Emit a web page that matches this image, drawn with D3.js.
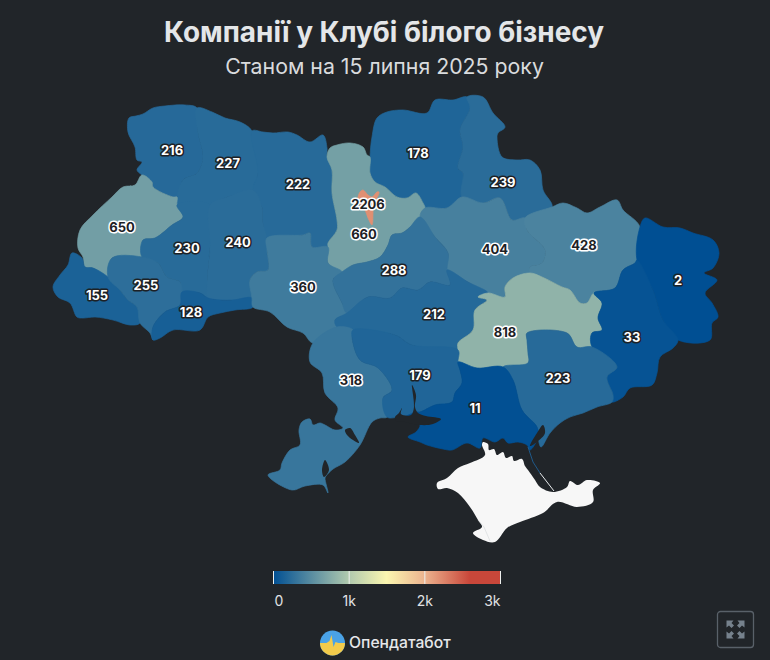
<!DOCTYPE html>
<html>
<head>
<meta charset="utf-8">
<script src="https://cdn.jsdelivr.net/npm/d3@7"></script>
<style>
	html, body { margin: 0; padding: 0; background: #212529; }
	svg { display: block; font-family: Inter, "Noto Sans", sans-serif; }
</style>
</head>
<body>
<svg id="chart" width="770" height="660"></svg>
<script>
// Companies per oblast. Outlines are traced map units.
const regionNames = ['Волинська', 'Рівненська', 'Житомирська', 'Чернігівська', 'Сумська', 'Львівська', 'Тернопільська', 'Хмельницька', 'Київська', 'Полтавська', 'Харківська', 'Закарпатська', 'Івано-Франківська', 'Чернівецька', 'Вінницька', 'Черкаська', 'Кіровоградська', 'Дніпропетровська', 'Луганська', 'Донецька', 'Одеська', 'Миколаївська', 'Запорізька', 'Херсонська', 'м. Київ'];
const regionValues = [216, 227, 222, 178, 239, 650, 230, 240, 660, 404, 428, 155, 255, 128, 360, 288, 212, 818, 2, 33, 318, 179, 223, 11, 2206];

const regionOutlines = [
	[[129,118],[136,116],[143,114],[153,108],[165,106],[185,105],[197,108],[198,133],[203,157],[197,173],[183,180],[177,197],[173,197],[153,187],[152,182],[142,175],[137,170],[142,162],[137,160],[135,147],[128,132]],
	[[197,108],[212,112],[225,118],[240,122],[252,131],[258,173],[253,190],[227,197],[210,205],[177,205],[177,197],[183,180],[197,173],[203,157],[198,133]],
	[[252,131],[263,132],[273,133],[288,132],[297,135],[310,142],[323,135],[327,148],[327,157],[332,170],[332,193],[337,220],[337,230],[328,243],[328,247],[312,247],[310,233],[303,235],[267,238],[263,223],[262,207],[253,190],[258,173]],
	[[372,137],[377,118],[387,112],[403,110],[427,113],[435,100],[453,100],[467,97],[470,108],[460,130],[463,147],[458,168],[463,173],[462,197],[447,208],[425,208],[423,203],[416,193],[407,198],[397,197],[385,187],[375,182],[370,173],[370,157]],
	[[467,97],[483,97],[493,113],[505,127],[498,133],[497,138],[502,157],[517,160],[530,160],[540,170],[543,190],[552,207],[525,218],[512,220],[500,198],[483,203],[462,197],[463,173],[458,168],[463,147],[460,130],[470,108]],
	[[142,175],[152,182],[153,187],[173,197],[177,197],[177,205],[183,217],[172,225],[155,238],[143,240],[142,257],[112,258],[108,277],[93,268],[85,267],[83,257],[78,248],[80,230],[93,215],[112,197],[123,187],[135,185]],
	[[183,217],[177,205],[210,205],[210,247],[207,283],[208,298],[200,293],[182,292],[180,282],[167,277],[158,263],[142,257],[143,240],[155,238],[172,225]],
	[[210,205],[227,197],[253,190],[262,207],[263,223],[267,238],[267,250],[268,270],[257,272],[250,280],[252,298],[233,300],[220,300],[208,298],[207,283],[210,247]],
	[[327,157],[330,148],[337,145],[350,143],[363,147],[367,155],[370,157],[370,173],[375,182],[385,187],[397,197],[407,198],[416,193],[423,203],[425,208],[420,217],[410,227],[402,233],[392,235],[388,245],[380,257],[367,262],[353,265],[342,272],[328,263],[328,247],[328,243],[337,230],[337,220],[332,193],[332,170]],
	[[425,208],[447,208],[462,197],[483,203],[500,198],[512,220],[525,218],[527,230],[545,250],[542,263],[530,267],[530,273],[513,278],[505,287],[505,297],[488,293],[468,282],[447,270],[448,253],[435,237],[420,217]],
	[[525,218],[552,207],[563,203],[577,208],[587,213],[600,207],[617,200],[623,210],[640,227],[637,260],[635,263],[623,270],[615,288],[594,293],[587,303],[580,303],[570,290],[562,287],[542,277],[530,273],[530,267],[542,263],[545,250],[527,230]],
	[[108,277],[120,290],[128,300],[137,307],[140,323],[130,325],[113,320],[95,317],[83,318],[77,317],[70,303],[58,297],[53,287],[60,275],[68,265],[72,253],[82,258],[85,267],[93,268]],
	[[142,257],[158,263],[167,277],[180,282],[182,292],[180,305],[165,312],[153,327],[153,340],[150,333],[140,323],[137,307],[128,300],[120,290],[108,277],[112,258]],
	[[182,292],[200,293],[208,298],[220,300],[233,300],[252,298],[253,307],[235,310],[220,313],[208,317],[200,330],[173,330],[160,338],[153,340],[153,327],[165,312],[180,305]],
	[[267,238],[303,235],[310,233],[312,247],[328,247],[328,263],[342,272],[333,280],[342,303],[347,313],[335,320],[337,327],[313,343],[303,333],[287,327],[270,312],[253,307],[252,298],[250,280],[257,272],[268,270],[267,250]],
	[[342,272],[353,265],[367,262],[380,257],[388,245],[392,235],[402,233],[410,227],[420,217],[435,237],[448,253],[447,270],[450,285],[430,282],[418,290],[402,288],[390,298],[368,297],[347,313],[342,303],[333,280]],
	[[335,320],[347,313],[368,297],[390,298],[402,288],[418,290],[430,282],[450,285],[447,270],[468,282],[488,293],[478,297],[487,300],[475,310],[473,330],[458,343],[458,350],[412,345],[395,335],[353,330],[337,327]],
	[[505,287],[513,278],[530,273],[542,277],[562,287],[570,290],[580,303],[587,303],[594,293],[602,303],[598,318],[602,330],[592,333],[592,347],[577,347],[567,333],[527,333],[527,340],[528,353],[528,363],[503,367],[477,368],[458,362],[458,350],[458,343],[473,330],[475,310],[487,300],[478,297],[488,293],[505,297]],
	[[640,227],[645,218],[663,227],[680,228],[693,233],[713,240],[719,253],[713,268],[704,273],[717,280],[705,293],[712,303],[718,317],[712,323],[710,340],[678,340],[663,320],[653,290],[637,260]],
	[[637,260],[653,290],[663,320],[678,340],[673,348],[660,357],[657,373],[652,385],[630,388],[623,397],[612,402],[613,395],[607,377],[617,367],[592,347],[592,333],[602,330],[598,318],[602,303],[594,293],[615,288],[623,270],[635,263]],
	[[313,343],[337,327],[353,330],[352,337],[360,360],[378,368],[392,390],[383,398],[387,417],[380,418],[372,422],[360,445],[345,462],[333,469],[326,476],[325,478],[328,493],[323,485],[305,486],[292,490],[268,475],[280,470],[282,463],[290,450],[300,445],[299,430],[302,422],[310,419],[313,425],[320,423],[325,425],[335,430],[343,428],[335,420],[338,408],[325,393],[322,373],[310,362]],
	[[353,330],[395,335],[412,345],[458,350],[458,362],[460,370],[462,383],[455,393],[452,402],[435,405],[420,412],[416,412],[413,417],[400,417],[387,417],[383,398],[392,390],[378,368],[360,360],[352,337]],
	[[503,367],[528,363],[528,353],[527,340],[527,333],[567,333],[577,347],[592,347],[617,367],[607,377],[613,395],[612,402],[597,407],[583,413],[570,417],[560,423],[550,433],[541,447],[538,437],[537,427],[522,410],[513,380]],
	[[416,412],[420,412],[435,405],[452,402],[455,393],[462,383],[460,370],[458,362],[477,368],[503,367],[513,380],[522,410],[537,427],[538,437],[530,450],[527,445],[518,442],[508,443],[503,438],[495,442],[483,438],[480,448],[467,443],[452,450],[443,449],[427,445],[420,442],[408,437],[416,432],[420,425],[408,420],[400,420]],
	[[360,192],[363,190],[368,195],[372,197],[377,192],[379,192],[377,198],[373,205],[373,213],[372,225],[368,218],[365,210],[360,205],[358,198]]
];

// Where each number sits on the map, same order as regionNames
const labelAnchors = [[172,150],[228,163],[298,184],[418,153],[503,182],[122,227],[187,248],[238,242],[364,234],[495,249],[584,245],[97,295],[146,285],[191,312],[303,287],[394,270],[434,314],[505,332],[678,280],[632,337],[351,380],[420,375],[558,378],[475,408],[368,204]];

// Limans and the Crimea, not part of the colour scale
const waterOutlines = [
	[[345,430],[350,428],[355,435],[359,443],[353,440],[347,435]],
	[[325,460],[329,470],[324,477],[322,470]],
	[[395,417],[399,413],[402,408],[401,414],[411,415],[414,407],[412,385],[416,395],[415,407],[418,413],[426,416],[441,419],[433,424],[420,425],[405,422],[396,421]],
	[[543,425],[545,433],[537,442],[530,446],[537,433]]
];
const crimeaOutline = [[483,442],[488,444],[489,450],[494,449],[497,455],[503,452],[506,458],[512,456],[514,461],[522,459],[525,466],[528,470],[535,480],[540,487],[553,492],[567,487],[570,481],[578,485],[587,480],[600,483],[593,490],[593,502],[577,507],[557,502],[543,513],[520,522],[507,528],[495,542],[483,540],[473,533],[482,527],[478,520],[470,507],[458,493],[447,488],[438,489],[437,483],[447,478],[458,468],[470,463],[485,455],[482,445]];
const bridgeBlueLine = [[528,447],[533,462],[540,473]];
const bridgeWhiteLine = [[540,473],[554,491]];
const sevastopolLine = [[478,520],[484,527],[490,541]];

// Legend
const colorDomain = [0, 1000, 1500, 2000, 2600, 3000];
const colorRange = ['#004f93', '#b0c9ae', '#fbf6b0', '#ecb48f', '#c9473a', '#c9473a'];
const legendTicks = [0, 1000, 2000, 3000];
const legendLabels = ['0', '1k', '2k', '3k'];

const svg = d3.select('#chart');
const color = d3.scaleLinear().domain(colorDomain).range(colorRange);
const projection = d3.geoIdentity();
const geoPath = d3.geoPath(projection);
// Traced outlines are coarse, a closed spline takes the corners off
const outlinePath = d3.line()
	.x(p => projection(p)[0]).y(p => projection(p)[1])
	.curve(d3.curveCatmullRomClosed.alpha(0.5));
const bg = '#212529';

// Title
svg.append('text').attr('x', 384).attr('y', 42)
	.attr('text-anchor', 'middle').attr('font-size', 27.9).attr('font-weight', 700)
	.attr('fill', '#e4e6e8').text('Компанії у Клубі білого бізнесу');
svg.append('text').attr('x', 384.5).attr('y', 74)
	.attr('text-anchor', 'middle').attr('font-size', 21.3)
	.attr('fill', '#d9dbdd').text('Станом на 15 липня 2025 року');

// Map
const map = svg.append('g');
map.selectAll('path.region').data(regionOutlines).join('path')
	.attr('class', 'region')
	.attr('d', outlinePath)
	.attr('fill', (ring, i) => color(regionValues[i]))
	.attr('stroke', (ring, i) => color(regionValues[i]))
	.attr('stroke-width', 0.7)
	.attr('stroke-linejoin', 'round');
map.selectAll('path.water').data(waterOutlines).join('path')
	.attr('class', 'water')
	.attr('d', outlinePath)
	.attr('fill', bg);
map.append('path').attr('d', outlinePath(crimeaOutline)).attr('fill', '#f7f7f7');
map.append('path').attr('d', geoPath({ type: 'LineString', coordinates: sevastopolLine }))
	.attr('fill', 'none').attr('stroke', '#d3d6d8').attr('stroke-width', 0.6);
map.append('path').attr('d', geoPath({ type: 'LineString', coordinates: bridgeBlueLine }))
	.attr('fill', 'none').attr('stroke', '#1f5f93').attr('stroke-width', 0.9);
map.append('path').attr('d', geoPath({ type: 'LineString', coordinates: bridgeWhiteLine }))
	.attr('fill', 'none').attr('stroke', '#e6e9eb').attr('stroke-width', 1);

// Numbers: dark on the pale regions, white on the saturated ones
map.selectAll('text.value').data(regionValues).join('text')
	.attr('class', 'value')
	.attr('x', (v, i) => projection(labelAnchors[i])[0])
	.attr('y', (v, i) => projection(labelAnchors[i])[1])
	.attr('dy', '0.36em')
	.attr('text-anchor', 'middle').attr('font-size', 13).attr('font-weight', 700)
	.attr('paint-order', 'stroke').attr('stroke-width', 3).attr('stroke-linejoin', 'round')
	.attr('fill', v => v >= 300 ? '#1d2125' : '#fff')
	.attr('stroke', v => v >= 300 ? '#fff' : '#1d2125')
	.text(v => v);

// Colour legend
const legendX = d3.scaleLinear().domain([0, 3000]).range([273, 500]);
const gradient = svg.append('defs').append('linearGradient').attr('id', 'legend-gradient');
gradient.selectAll('stop').data(colorDomain).join('stop')
	.attr('offset', d => d / 3000)
	.attr('stop-color', d => color(d));
svg.append('rect').attr('x', 273).attr('y', 571).attr('width', 227).attr('height', 13)
	.attr('fill', 'url(#legend-gradient)');
svg.append('g').attr('transform', 'translate(0,584)')
	.call(d3.axisBottom(legendX).tickValues(legendTicks).tickSize(13).tickPadding(4)
		.tickFormat((d, i) => legendLabels[i]))
	.call(ax => ax.select('.domain').remove())
	.call(ax => ax.selectAll('line').attr('y1', -13).attr('y2', 0).attr('stroke', '#eef0ee').attr('stroke-width', 1))
	.call(ax => ax.selectAll('text')
		.attr('font-family', 'Inter').attr('font-size', 14).attr('fill', '#e0e2e4')
		.attr('y', 12)
		.attr('text-anchor', (d, i) => i === 0 ? 'start' : i === legendTicks.length - 1 ? 'end' : 'middle')
		.attr('dx', (d, i) => i === 0 ? 1 : 0));

// Opendatabot logo
const logo = svg.append('g').attr('transform', 'translate(332.5,643)');
logo.append('clipPath').attr('id', 'logo-clip').append('circle').attr('r', 12.5);
const logoInner = logo.append('g').attr('clip-path', 'url(#logo-clip)');
logoInner.append('rect').attr('x', -13).attr('y', -13).attr('width', 26).attr('height', 26).attr('fill', '#4aa2e6');
logoInner.append('path').attr('d', 'M-13,0 L-6,0 L-3,-2 L-1,-8 L1,4 L3,-1 L6,0 L13,0 L13,13 L-13,13 Z').attr('fill', '#f3cb4b');
svg.append('text').attr('x', 349).attr('y', 648)
	.attr('font-size', 15.7).attr('font-weight', 500).attr('fill', '#e6e8ea').text('Опендатабот');

// Fullscreen button
const button = svg.append('g').attr('transform', 'translate(717.5,611.5)');
button.append('rect').attr('width', 36).attr('height', 36).attr('rx', 3)
	.attr('fill', 'none').attr('stroke', '#596169').attr('stroke-width', 1.3);
button.selectAll('path').data([[0, 0], [90, 0], [180, 0], [270, 0]]).join('path')
	.attr('transform', d => 'translate(18,18) rotate(' + d[0] + ')')
	.attr('d', 'M-9,-9 L-2,-9 L-4,-6.5 L-1.5,-4 L-4,-1.5 L-6.5,-4 L-9,-2 Z')
	.attr('fill', '#76828d');
</script>
</body>
</html>
